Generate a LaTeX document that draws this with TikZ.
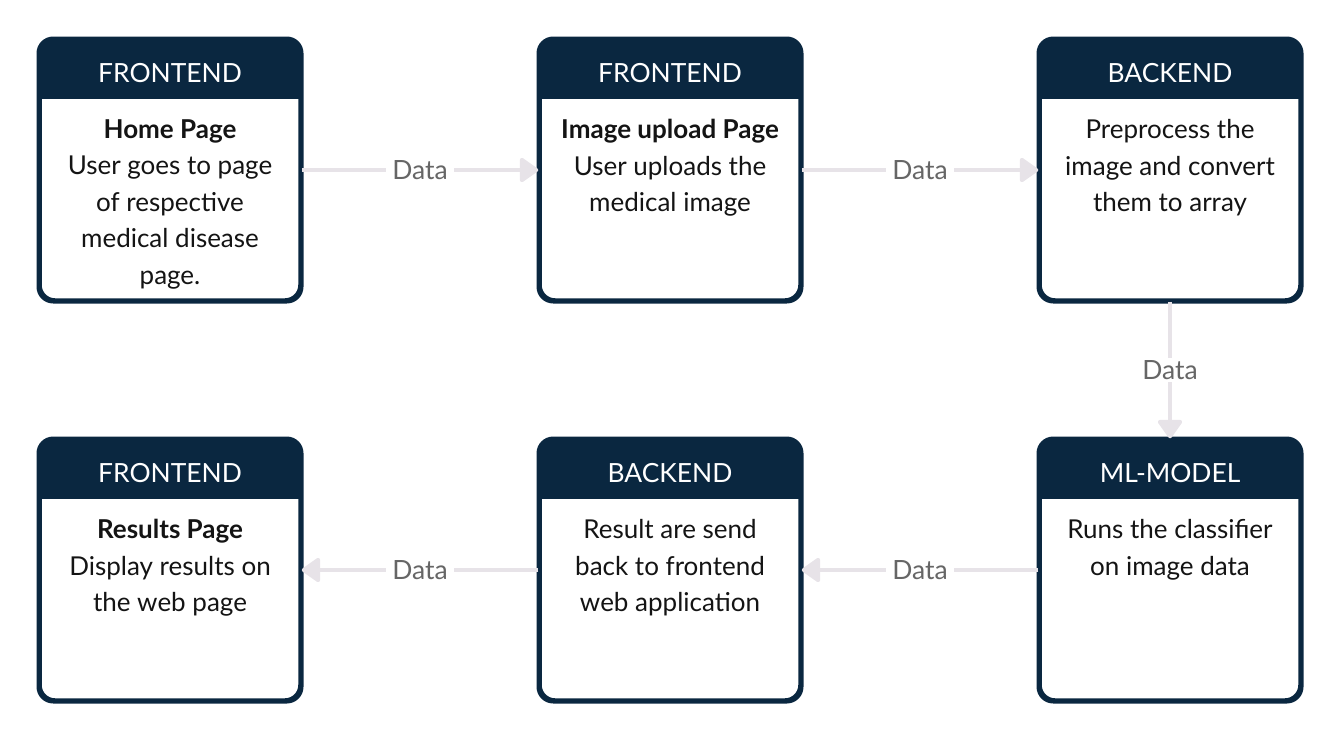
\documentclass[tikz,border=0pt]{standalone}
\usepackage{fontspec}
\setmainfont{Lato}
\usetikzlibrary{arrows.meta}
\definecolor{navy}{HTML}{0A2740}
\definecolor{lnk}{HTML}{E7E3E8}
\definecolor{lbl}{HTML}{666666}
\tikzset{
  box/.style={draw=navy, line width=3.5pt, fill=white, rounded corners=15pt,
    minimum width=260pt, minimum height=260pt, inner sep=0pt},
  head/.style={text=white, font=\fontsize{26.4}{30}\selectfont, inner sep=0pt},
  body/.style={text=black!92, font=\fontsize{26}{36.5}\selectfont, align=center,
    inner sep=0pt, anchor=north},
  link/.style={draw=lnk, line width=4pt, -{Triangle[length=20pt,width=27pt,round]}},
  dlabel/.style={fill=white, text=lbl, font=\fontsize{26.5}{30}\selectfont, inner xsep=6pt, inner ysep=2pt}
}
\newcommand{\mkbox}[5]{%
  \node[box] (#1) at (#2,#3) {};
  \begin{scope}
    \clip[rounded corners=15pt] (#1.north west) rectangle (#1.south east);
    \fill[navy] (#1.north west) rectangle ([yshift=-61pt]#1.north east);
  \end{scope}
  \draw[navy, line width=3.5pt, rounded corners=15pt] (#1.north west) rectangle (#1.south east);
  \node[head] (#1h) at ([yshift=-35pt]#1.north) {#4};
  \node[body] (#1b) at ([yshift=-81pt]#1.north) {#5};
}
\begin{document}
\begin{tikzpicture}[x=1pt,y=-1pt]
\useasboundingbox (0,0) rectangle (1340,740);
\mkbox{b1}{170}{170}{FRONTEND}{\textbf{Home Page}\\User goes to page\\of respective\\medical disease\\page.}
\mkbox{b2}{670}{170}{FRONTEND}{\textbf{Image upload Page}\\User uploads the\\medical image}
\mkbox{b3}{1170}{170}{BACKEND}{Preprocess the\\image and convert\\them to array}
\mkbox{b4}{170}{570}{FRONTEND}{\textbf{Results Page}\\Display results on\\the web page}
\mkbox{b5}{670}{570}{BACKEND}{Result are send\\back to frontend\\web application}
\mkbox{b6}{1170}{570}{ML-MODEL}{Runs the classifier\\on image data}
\draw[link] (b1.east) -- node[dlabel] (d1) {Data} (b2.west);
\draw[link] (b2.east) -- node[dlabel] (d2) {Data} (b3.west);
\draw[link] (b3.south) -- node[dlabel] (d3) {Data} (b6.north);
\draw[link] (b6.west) -- node[dlabel] (d4) {Data} (b5.east);
\draw[link] (b5.west) -- node[dlabel] (d5) {Data} (b4.east);
\end{tikzpicture}
\end{document}
